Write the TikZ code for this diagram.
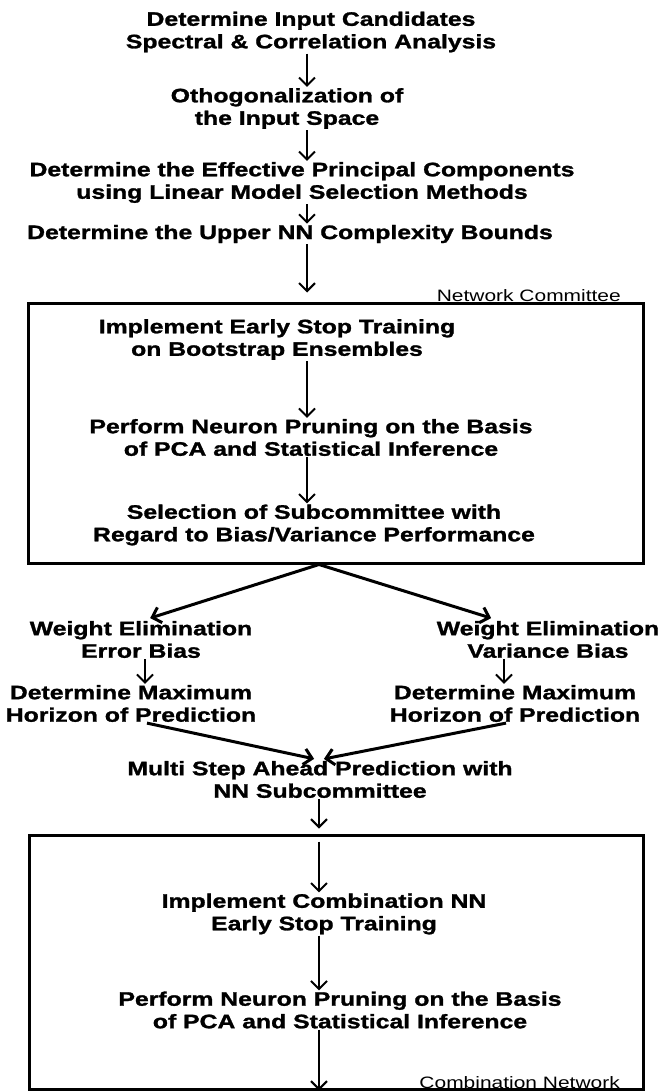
\documentclass[tikz,border=0pt]{standalone}
\usepackage{fontspec}
\setmainfont{Liberation Sans}[FakeStretch=1.27, BoldFeatures={FakeBold=1.4}]
\usetikzlibrary{arrows.meta}

\begin{document}
\begin{tikzpicture}[x=1pt, y=-1pt,
        steptext/.style={font=\bfseries\fontsize{19.5}{22.5}\selectfont, align=center, inner sep=1pt},
        tag/.style={font=\fontsize{16.5}{18}\selectfont, inner sep=0pt},
        frame/.style={draw, line width=3pt},
        arr/.style={line width=2pt, -{Straight Barb[length=8pt,width=16pt]}},
        fan/.style={line width=3pt, -{Straight Barb[length=8pt,width=16pt]}}]
    \useasboundingbox (0,0) rectangle (668,1092);
    \coordinate (sp) at (307,0);
    \coordinate (sq) at (319,0);
    % preprocessing steps
    \node[steptext] (title) at (311,32) {Determine Input Candidates\\Spectral \& Correlation Analysis};
    \node[steptext] (ortho) at (287,108.5) {Othogonalization of\\the Input Space};
    \node[steptext] (effpc) at (302,182.5) {Determine the Effective Principal Components\\using Linear Model Selection Methods};
    \node[steptext] (upper) at (290,234) {Determine the Upper NN Complexity Bounds};
    % network committee
    \node[frame, minimum width=615pt, minimum height=260pt] (comm) at (335.5,433) {};
    \node[tag, anchor=base east] (nc) at (621,301) {Network Committee};
    \node[steptext] (iest) at (277,339.5) {Implement Early Stop Training\\on Bootstrap Ensembles};
    \node[steptext] (prune) at (311,437.5) {Perform Neuron Pruning on the Basis\\of PCA and Statistical Inference};
    \node[steptext] (selsub) at (314,525) {Selection of Subcommittee with\\Regard to Bias/Variance Performance};
    % the two branches
    \node[steptext] (wel) at (141,639.5) {Weight Elimination\\Error Bias};
    \node[steptext] (wer) at (548,639.5) {Weight Elimination\\Variance Bias};
    \node[steptext] (dml) at (131,703.5) {Determine Maximum\\Horizon of Prediction};
    \node[steptext] (dmr) at (515,703.5) {Determine Maximum\\Horizon of Prediction};
    \node[steptext] (msp) at (320,779.5) {Multi Step Ahead Prediction with\\NN Subcommittee};
    % combination network
    \node[frame, minimum width=614pt, minimum height=254pt] (comb) at (336,962) {};
    \node[tag, anchor=base east] (cn) at (620,1088) {Combination Network};
    \node[steptext] (icnn) at (324,914) {Implement Combination NN\\Early Stop Training};
    \node[steptext] (prune2) at (340,1010) {Perform Neuron Pruning on the Basis\\of PCA and Statistical Inference};

    \draw[arr] (title.south -| sp) -- (ortho.north -| sp);
    \draw[arr] (ortho.south -| sp) -- (effpc.north -| sp);
    \draw[arr] (effpc.south -| sp) -- (upper.north -| sp);
    \draw[arr, shorten >=9pt] (upper.south -| sp) -- (comm.north -| sp);
    \draw[arr] (iest.south -| sp) -- (prune.north -| sp);
    \draw[arr] (prune.south -| sp) -- (selsub.north -| sp);
    \draw[fan, shorten >=6pt] (comm.south -| sq) -- (wel.80);
    \draw[fan, shorten >=6pt] (comm.south -| sq) -- (wer.159);
    \draw[arr] ([xshift=4pt]wel.south) -- ([xshift=4pt]wel.south |- dml.north);
    \draw[arr] ([xshift=-11pt]dmr.north |- wer.south) -- ([xshift=-11pt]dmr.north);
    \draw[fan, shorten >=5pt] ([xshift=16pt]dml.south) -- (msp.north -| sq);
    \draw[fan, shorten >=5pt] ([xshift=-9pt]dmr.south) -- (msp.north -| sq);
    \draw[arr, shorten >=5pt] (msp.south -| sq) -- (comb.north -| sq);
    \draw[arr, shorten <=8pt] (comb.north -| sq) -- (icnn.north -| sq);
    \draw[arr] (icnn.south -| sq) -- (prune2.north -| sq);
    \draw[arr] (prune2.south -| sq) -- (comb.south -| sq);
\end{tikzpicture}
\end{document}
